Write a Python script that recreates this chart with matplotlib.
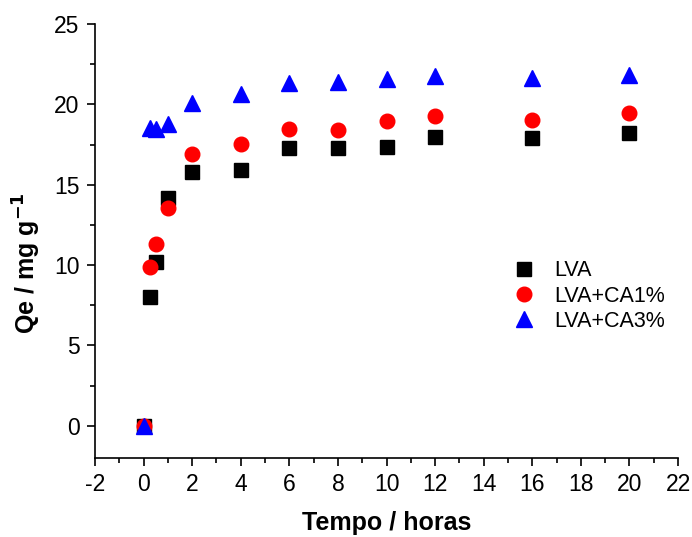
import numpy as np
import matplotlib
matplotlib.use('Agg')
import matplotlib.pyplot as plt
from matplotlib.ticker import MultipleLocator

# data
tempo = [0, 0.25, 0.5, 1, 2, 4, 6, 8, 10, 12, 16, 20]
lva = [0, 8.0, 10.2, 14.2, 15.8, 15.9, 17.3, 17.3, 17.35, 17.95, 17.9, 18.2]
lva_ca1 = [0, 9.9, 11.3, 13.55, 16.9, 17.55, 18.45, 18.4, 18.95, 19.25, 19.0, 19.45]
lva_ca3 = [0, 18.5, 18.45, 18.75, 20.1, 20.65, 21.3, 21.4, 21.55, 21.75, 21.65, 21.85]

plt.rcParams['font.family'] = ['Liberation Sans', 'DejaVu Sans']
plt.rcParams['axes.unicode_minus'] = False

fig = plt.figure(figsize=(6.92, 5.37), dpi=100)
ax = fig.add_axes([0.1373, 0.1471, 0.8425, 0.8082])

ax.plot(tempo, lva, 's', color='black', ms=9.5, ls='none', label='LVA')
ax.plot(tempo, lva_ca1, 'o', color='red', ms=10.5, ls='none', label='LVA+CA1%')
ax.plot(tempo, lva_ca3, '^', color='blue', ms=11.5, ls='none', label='LVA+CA3%')

ax.set_xlim(-2, 22)
ax.set_ylim(-2, 25)
ax.xaxis.set_major_locator(MultipleLocator(2))
ax.xaxis.set_minor_locator(MultipleLocator(1))
ax.yaxis.set_major_locator(MultipleLocator(5))
ax.yaxis.set_minor_locator(MultipleLocator(2.5))

for s in ['top', 'right']:
    ax.spines[s].set_visible(False)
for s in ['left', 'bottom']:
    ax.spines[s].set_linewidth(1.2)

ax.tick_params(which='major', direction='out', length=6, width=1.2, labelsize=16.5, pad=5)
ax.tick_params(which='minor', direction='out', length=3.5, width=1.2)

ax.set_xlabel('Tempo / horas', fontsize=18, fontweight='bold')
ax.set_ylabel('Qe / mg g$^{\\mathbf{-1}}$', fontsize=18, fontweight='bold')
ax.xaxis.set_label_coords(0.5, -0.122)
ax.yaxis.set_label_coords(-0.089, 0.449)

ax.legend(loc='center left', bbox_to_anchor=(0.72, 0.373), frameon=False,
          fontsize=15.5, handlelength=0.9, handletextpad=0.95, labelspacing=0.2,
          borderpad=0, borderaxespad=0)

fig.savefig('out.png', dpi=100)
